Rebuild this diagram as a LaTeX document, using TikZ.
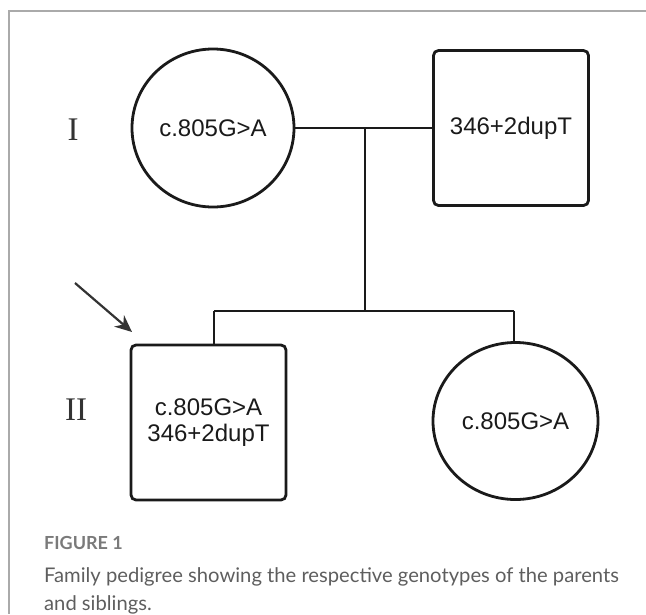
\documentclass[tikz,border=0pt]{standalone}
\usepackage{fontspec}
\setmainfont{Liberation Sans}
\newfontfamily\romanfont{Liberation Serif}
\newfontfamily\capfont{Lato}
\usetikzlibrary{shapes.geometric,arrows.meta}
\definecolor{ink}{HTML}{1A1A1A}
\definecolor{framegray}{HTML}{AAAAAA}
\definecolor{capgray}{HTML}{5E5E5E}
\definecolor{figgray}{HTML}{7A7A7A}
\definecolor{labgray}{HTML}{333333}
\tikzset{
  female/.style={ellipse, draw=ink, line width=2.8pt, inner sep=0pt, font=\fontsize{24}{28}\selectfont, text=ink},
  male/.style={rectangle, draw=ink, line width=2.8pt, rounded corners=5pt, minimum width=155pt, minimum height=155pt, inner sep=0pt, font=\fontsize{24}{28}\selectfont, text=ink, align=center},
  link/.style={draw=ink, line width=2.6pt},
  gen/.style={font=\romanfont\fontsize{33}{36}\selectfont, text=labgray, inner sep=0pt},
  proband/.style={draw=labgray, line width=2.2pt, -{Stealth[length=17pt,width=15pt]}},
  frame/.style={draw=framegray, line width=1.3pt},
  capline/.style={anchor=base west, inner sep=0pt, text=capgray}
}
\begin{document}
\begin{tikzpicture}[x=1pt,y=-1pt]
\useasboundingbox (0,0) rectangle (646,614);
% frame
\coordinate (ftl) at (9,11);
\coordinate (ftr) at (646,11);
\coordinate (fbl) at (9,614);
\draw[frame] (ftr) -- (ftl) -- (fbl);
% generation I
\node[female, minimum width=162pt, minimum height=158pt] (mother) at (213,128) {c.805G>A};
\node[male] (father) at (511,128) {346+2dupT};
\draw[link] (mother.east) -- (father.west);
\coordinate (m) at (365,128);
\coordinate (s) at (365,311);
\draw[link] (m) -- (s);
% sibship
\coordinate (sl) at (214,311);
\coordinate (sr) at (514,311);
\draw[link] (sl) -- (sr);
\node[male] (son) at (208.5,422.5) {c.805G>A\\[-2pt]346+2dupT};
\node[female, minimum width=165pt, minimum height=157pt] (daughter) at (515.5,421) {c.805G>A};
\draw[link] (sl) -- (sl |- son.north);
\draw[link] (sr) -- (sr |- daughter.north);
% proband arrow
\coordinate (pa) at (75,283);
\coordinate (pb) at (132,332);
\draw[proband] (pa) -- (pb);
% generation labels
\node[gen] (g1) at (73,130) {I};
\node[gen] (g2) at (76,410) {II};
% caption
\node[capline, font=\capfont\bfseries\fontsize{18}{20}\selectfont, text=figgray] (fig) at (44,549) {FIGURE 1};
\node[capline, font=\capfont\fontsize{20.2}{24}\selectfont] (cap1) at (44,582) {Family pedigree showing the respective genotypes of the parents};
\node[capline, font=\capfont\fontsize{20.2}{24}\selectfont] (cap2) at (44,610) {and siblings.};
\end{tikzpicture}
\end{document}
